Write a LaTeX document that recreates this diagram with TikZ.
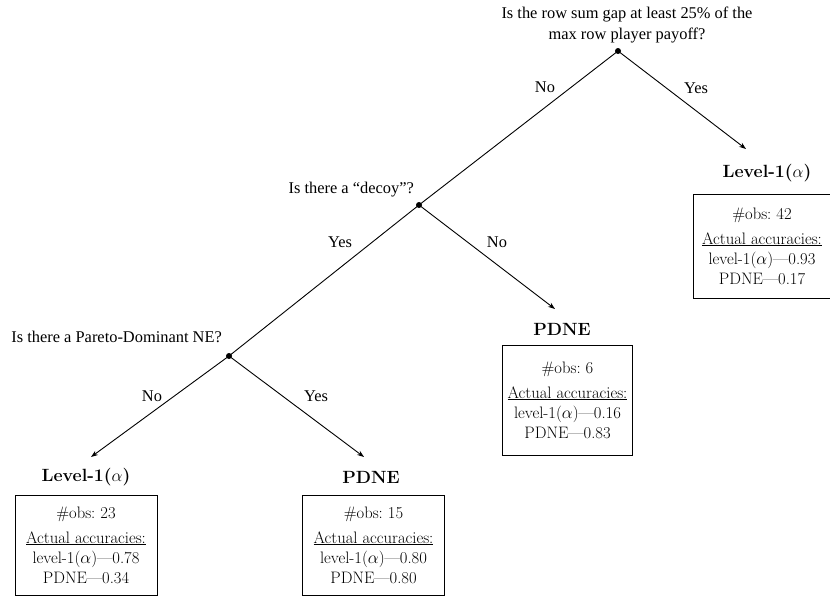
\documentclass[tikz,border=0pt]{standalone}
\usepackage{fontspec}
\newfontfamily\qfont{Liberation Serif}
\usetikzlibrary{arrows.meta}
\begin{document}
\begin{tikzpicture}[x=1pt,y=-1pt,
  edge/.style={line width=0.9pt},
  leafedge/.style={line width=0.9pt,-{Stealth[length=7pt,width=5pt]}},
  splitdot/.style={circle,fill=black,inner sep=0pt,minimum size=6pt},
  question/.style={font=\qfont\fontsize{16.4}{21}\selectfont,inner sep=0pt,align=center},
  branch/.style={font=\qfont\fontsize{16.4}{21}\selectfont,inner sep=0pt},
  leaftitle/.style={font=\fontsize{17.7}{21}\selectfont\bfseries,inner sep=0pt},
  leafbox/.style={draw,line width=0.9pt,align=center,inner sep=0pt,
    minimum width=137pt,minimum height=104pt,
    font=\fontsize{16.6}{20}\selectfont}
]
\useasboundingbox (0,0) rectangle (830,605);

% split points
\node[splitdot] (s1) at (618,51) {};
\node[splitdot] (s2) at (419,205) {};
\node[splitdot] (s3) at (229,356) {};

% questions
\node[question] (q1) at (627,24.5) {Is the row sum gap at least 25\% of the\\max row player payoff?};
\node[question,anchor=base east] (q2) at (414,193) {Is there a “decoy”?};
\node[question,anchor=base east] (q3) at (222,342) {Is there a Pareto-Dominant NE?};

% leaf titles
\node[leaftitle] (t1) at (767,173) {Level-1($\alpha$)};
\node[leaftitle] (t2) at (562,329) {PDNE};
\node[leaftitle] (t3) at (86,477) {Level-1($\alpha$)};
\node[leaftitle] (t4) at (371,477) {PDNE};

% arrow ends above the leaf titles
\coordinate (e1) at (746,149);
\coordinate (e2) at (555,309);
\coordinate (e3) at (91,457);
\coordinate (e4) at (364,457);

% leaf boxes
\node[leafbox] (b1) at (762,246) {\#obs:\ 42\\[5pt]\underline{Actual accuracies:}\\level-1($\alpha$)---0.93\\PDNE---0.17};
\node[leafbox,minimum width=130pt,minimum height=110pt] (b2) at (567.5,400) {\#obs:\ 6\\[5pt]\underline{Actual accuracies:}\\level-1($\alpha$)---0.16\\PDNE---0.83};
\node[leafbox,minimum width=142pt,minimum height=100pt] (b3) at (86,545) {\#obs:\ 23\\[5pt]\underline{Actual accuracies:}\\level-1($\alpha$)---0.78\\PDNE---0.34};
\node[leafbox,minimum width=142pt,minimum height=100pt] (b4) at (373.5,545) {\#obs:\ 15\\[5pt]\underline{Actual accuracies:}\\level-1($\alpha$)---0.80\\PDNE---0.80};

% branches
\draw[edge] (s1.center) -- (s2.center);
\draw[edge] (s2.center) -- (s3.center);
\draw[leafedge] (s1.center) -- (e1);
\draw[leafedge] (s2.center) -- (e2);
\draw[leafedge] (s3.center) -- (e3);
\draw[leafedge] (s3.center) -- (e4);

% branch labels
\node[branch] (l1) at (545,87) {No};
\node[branch] (l2) at (696,88) {Yes};
\node[branch] (l3) at (340,242) {Yes};
\node[branch] (l4) at (497,242) {No};
\node[branch] (l5) at (152,396) {No};
\node[branch] (l6) at (316,396) {Yes};
\end{tikzpicture}
\end{document}
